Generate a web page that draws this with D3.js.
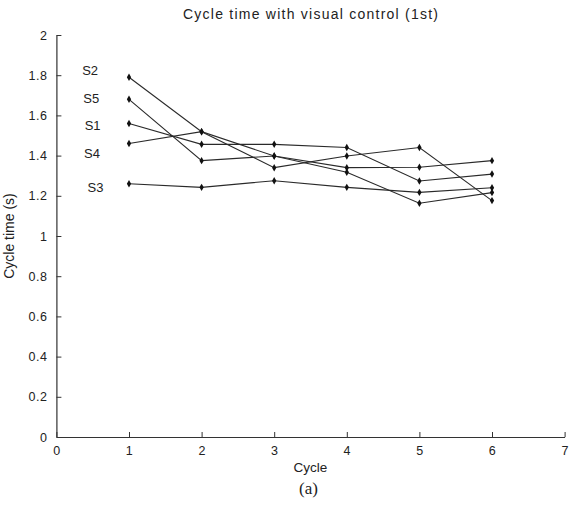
<!DOCTYPE html>
<html>
<head>
<meta charset="utf-8">
<script src="https://cdn.jsdelivr.net/npm/d3@7"></script>
<style>
  html, body { margin: 0; padding: 0; background: #fff; }
  svg text { font-family: "Liberation Sans", Arial, Helvetica, sans-serif; fill: #222; }
</style>
</head>
<body>
<svg id="chart" width="569" height="515"></svg>
<script>
// ---- data ----
const cycles = [1, 2, 3, 4, 5, 6];
const seriesNames = ["S1", "S2", "S3", "S4", "S5"];
const s1 = [1.56, 1.456, 1.456, 1.44, 1.274, 1.308];
const s2 = [1.79, 1.519, 1.340, 1.398, 1.44, 1.176];
const s3 = [1.26, 1.242, 1.275, 1.242, 1.217, 1.240];
const s4 = [1.46, 1.519, 1.398, 1.340, 1.342, 1.375];
const s5 = [1.68, 1.375, 1.398, 1.317, 1.163, 1.216];
const xTickValues = [0, 1, 2, 3, 4, 5, 6, 7];
const yTickValues = [0, 0.2, 0.4, 0.6, 0.8, 1, 1.2, 1.4, 1.6, 1.8, 2];
// annotation anchors (data units), MATLAB text(x, y, name)
const labelX = [0.39, 0.355, 0.43, 0.38, 0.37];
const labelY = [1.552, 1.826, 1.244, 1.413, 1.682];
const titleText = "Cycle time with visual control (1st)";
const xLabelText = "Cycle";
const yLabelText = "Cycle time (s)";
const captionText = "(a)";

const seriesValues = [s1, s2, s3, s4, s5];

// ---- layout ----
const svg = d3.select("#chart");
const x = d3.scaleLinear().domain([0, 7]).range([56.4, 564.6]);
const y = d3.scaleLinear().domain([0, 2]).range([437, 35]);

// axes (ticks pointing inward, MATLAB style)
const xAxis = d3.axisBottom(x).tickValues(xTickValues).tickFormat(d3.format("d"))
  .tickSizeInner(-5).tickSizeOuter(0).tickPadding(8);
const yAxis = d3.axisLeft(y).tickValues(yTickValues).tickFormat(d => String(+d.toFixed(1)))
  .tickSizeInner(-5).tickSizeOuter(0).tickPadding(9);

const gx = svg.append("g").attr("transform", `translate(0,${y(0)})`).call(xAxis);
const gy = svg.append("g").attr("transform", `translate(${x(0)},0)`).call(yAxis);
[gx, gy].forEach(g => {
  g.select(".domain").attr("stroke", "#333").attr("stroke-width", 1.2);
  g.selectAll(".tick line").attr("stroke", "#333").attr("stroke-width", 1);
  g.selectAll(".tick text").attr("font-size", 12.5).attr("fill", "#222")
    .style("letter-spacing", "0.5px")
    .style("font-family", "'Liberation Sans', Arial, sans-serif");
});
gx.selectAll(".tick text").attr("dy", "0.8em");

// lines
const line = d3.line().x((d, i) => x(cycles[i])).y(d => y(d));
seriesValues.forEach((vals, k) => {
  svg.append("path").datum(vals)
    .attr("d", line)
    .attr("fill", "none")
    .attr("stroke", "#2a2a2a")
    .attr("stroke-width", 1.1);
  svg.append("g").selectAll("path").data(vals).join("path")
    .attr("transform", (d, i) => `translate(${x(cycles[i])},${y(d)})`)
    .attr("d", d3.symbol().type(d3.symbolDiamond).size(16))
    .attr("fill", "#111");
});

// series annotations
seriesNames.forEach((name, k) => {
  svg.append("text")
    .attr("x", x(labelX[k])).attr("y", y(labelY[k]))
    .attr("dy", "0.35em")
    .attr("font-size", 13)
    .text(name);
});

// title
svg.append("text")
  .attr("x", (x(0) + x(7)) / 2).attr("y", 19)
  .attr("text-anchor", "middle")
  .attr("font-size", 14)
  .attr("textLength", 255).attr("lengthAdjust", "spacing")
  .text(titleText);

// x label
svg.append("text")
  .attr("x", (x(0) + x(7)) / 2).attr("y", 472)
  .attr("text-anchor", "middle")
  .attr("font-size", 13.5)
  .text(xLabelText);

// y label
svg.append("text")
  .attr("transform", `translate(14,${(y(0) + y(2)) / 2}) rotate(-90)`)
  .attr("text-anchor", "middle")
  .attr("font-size", 14)
  .text(yLabelText);

// caption
svg.append("text")
  .attr("x", (x(0) + x(7)) / 2 - 2).attr("y", 494)
  .attr("text-anchor", "middle")
  .attr("font-size", 17)
  .style("font-family", "'Liberation Serif', 'Times New Roman', serif")
  .attr("fill", "#000")
  .text(captionText);
</script>
</body>
</html>
